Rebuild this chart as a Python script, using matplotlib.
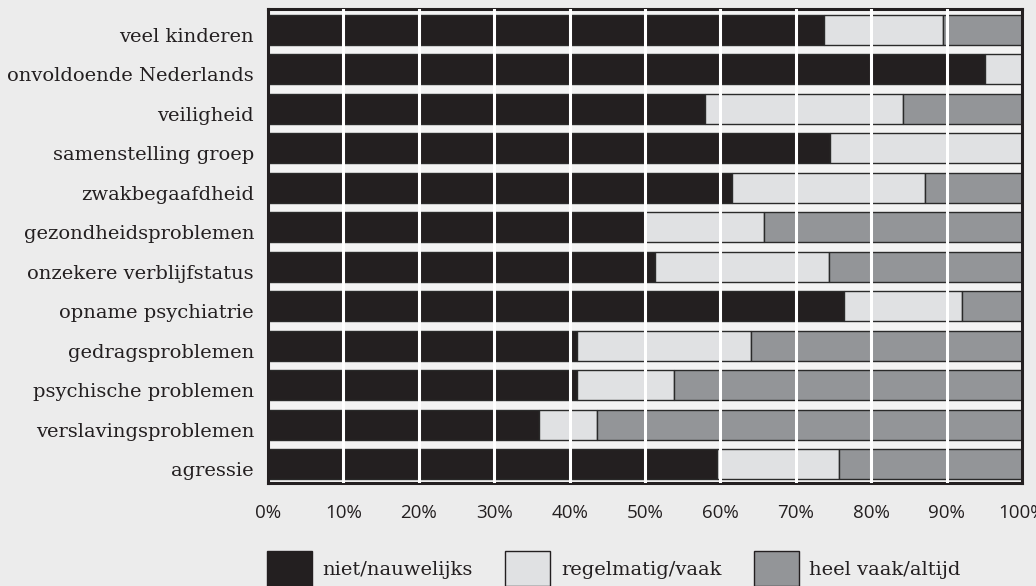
import matplotlib.pyplot as plt
import matplotlib.transforms as mtransforms
from matplotlib.patches import Patch
import numpy as np

categories = ["veel kinderen", "onvoldoende Nederlands", "veiligheid",
              "samenstelling groep", "zwakbegaafdheid", "gezondheidsproblemen",
              "onzekere verblijfstatus", "opname psychiatrie", "gedragsproblemen",
              "psychische problemen", "verslavingsproblemen", "agressie"]
niet = [73.7, 95.1, 58.0, 74.5, 61.5, 50.0, 51.3, 76.4, 41.0, 41.0, 35.9, 59.6]
regelmatig = [15.8, 4.9, 26.2, 25.5, 25.6, 15.8, 23.1, 15.7, 23.1, 12.8, 7.7, 16.1]
heel_vaak = [10.5, 0.0, 15.8, 0.0, 12.9, 34.2, 25.6, 7.9, 35.9, 46.2, 56.4, 24.3]
series_names = ["niet/nauwelijks", "regelmatig/vaak", "heel vaak/altijd"]
ticks = list(range(0, 101, 10))

colors = ["#231f20", "#e0e1e3", "#939598"]

fig = plt.figure(figsize=(10.36, 5.86), dpi=100, facecolor="#ececec")
ax = fig.add_axes([0.2587, 0.1758, 0.7278, 0.8088])
ax.set_facecolor("#f3f3f3")

y = np.arange(len(categories))
left = np.zeros(len(categories))
for vals, c, name in zip([niet, regelmatig, heel_vaak], colors, series_names):
    ax.barh(y, vals, left=left, height=0.76, color=c, edgecolor="#2a2a2a",
            linewidth=1.0, label=name, zorder=2)
    left += np.array(vals)

ax.set_xlim(0, 100)
ax.set_ylim(11.48, -0.53)
ax.set_yticks(y)
ax.set_yticklabels(categories, family="DejaVu Serif", fontsize=14, color="#231f20")
ax.set_xticks(ticks)
ax.set_xticklabels([f"{t}%" for t in ticks], family="Open Sans", fontsize=13.5,
                   color="#231f20")
ax.tick_params(axis="both", length=0)
ax.tick_params(axis="x", pad=15)
ax.tick_params(axis="y", pad=10)

# labels sit a little below the bar centres in the original
shift = mtransforms.ScaledTranslation(0, -5 / 100, fig.dpi_scale_trans)
for lab in ax.get_yticklabels():
    lab.set_transform(lab.get_transform() + shift)

for t in ticks[1:-1]:
    ax.axvline(t, color="white", linewidth=2.2, zorder=3)

for s in ax.spines.values():
    s.set_linewidth(2.2)
    s.set_color("#231f20")

handles = [Patch(facecolor=c, edgecolor="#231f20", linewidth=1.0) for c in colors]
leg = fig.legend(handles, series_names, loc="upper left",
                 bbox_to_anchor=(267 / 1036, 1 - 551 / 586),
                 ncol=3, frameon=False, borderpad=0, borderaxespad=0,
                 handlelength=2.3, handleheight=2.4,
                 columnspacing=1.68, handletextpad=0.55,
                 prop={"family": "DejaVu Serif", "size": 14})
for txt in leg.get_texts():
    txt.set_color("#231f20")

fig.savefig("out.png", dpi=100, facecolor=fig.get_facecolor())
